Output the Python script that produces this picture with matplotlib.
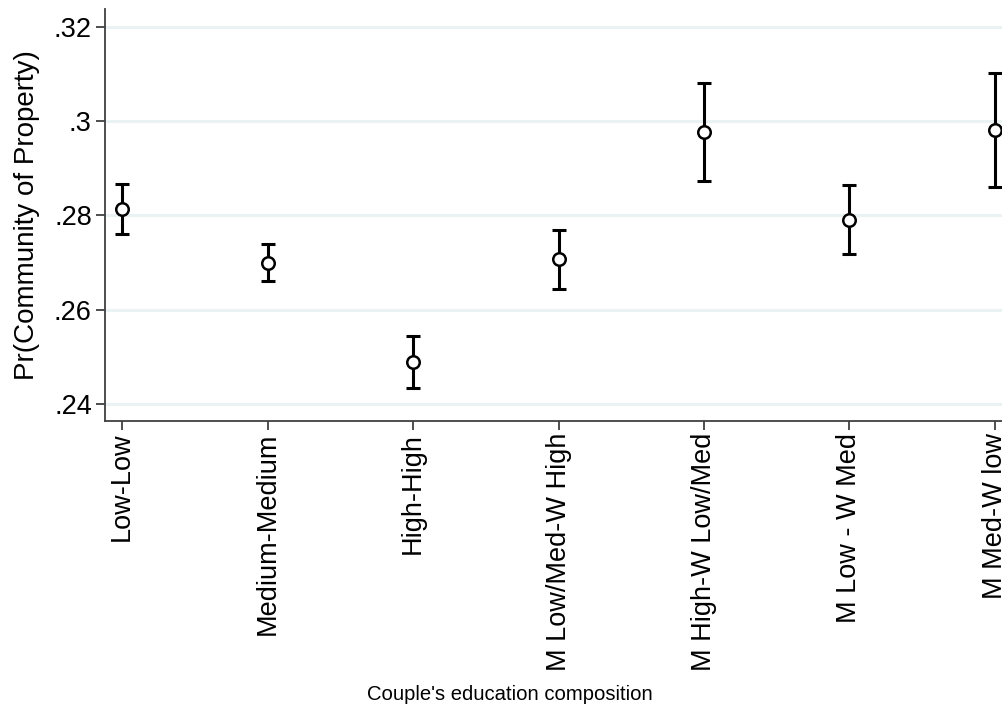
import numpy as np
import matplotlib
matplotlib.use("Agg")
import matplotlib.pyplot as plt

plt.rcParams['font.family'] = ['Liberation Sans', 'DejaVu Sans']

# predicted probabilities with 95% CI by couple education type
groups = ['Low-Low', 'Medium-Medium', 'High-High', 'M Low/Med-W High',
          'M High-W Low/Med', 'M Low - W Med', 'M Med-W low']
prob = [0.2813, 0.2700, 0.2489, 0.2707, 0.2977, 0.2791, 0.2982]
ci_low = [0.2760, 0.2661, 0.2434, 0.2645, 0.2873, 0.2718, 0.2860]
ci_high = [0.2867, 0.2740, 0.2545, 0.2770, 0.3081, 0.2865, 0.3103]
yticks = [0.24, 0.26, 0.28, 0.30, 0.32]
ytick_labels = ['.24', '.26', '.28', '.3', '.32']

W, H = 1002, 718
fig = plt.figure(figsize=(W / 100, H / 100), dpi=100)
# plot region runs past the right edge of the canvas
ax = fig.add_axes([105 / W, (H - 421) / H, (1012 - 105) / W, (421 - 9) / H])

x = np.arange(len(groups))
prob = np.array(prob)
err = np.array([prob - np.array(ci_low), np.array(ci_high) - prob])

for y in yticks:
    ax.axhline(y, color='#eaf2f3', lw=2.2, zorder=0)

ax.errorbar(x, prob, yerr=err, fmt='none', ecolor='black', elinewidth=2.2,
            capsize=5, capthick=2.2, zorder=2)
ax.plot(x, prob, 'o', ms=9, mfc='white', mec='black', mew=1.8, zorder=3)

ax.set_xlim(-0.117, 6.117)
ax.set_ylim(0.2364, 0.3238)
ax.set_yticks(yticks)
ax.set_yticklabels(ytick_labels)
ax.set_xticks(x)
ax.set_xticklabels(groups, rotation=90, va='top')

for s in ['top', 'right']:
    ax.spines[s].set_visible(False)
for s in ['left', 'bottom']:
    ax.spines[s].set_color('#404040')
    ax.spines[s].set_linewidth(1.3)

ax.tick_params(axis='both', direction='out', length=6.5, width=1.3,
               color='#404040', labelsize=19.5)
ax.tick_params(axis='x', pad=2)
ax.tick_params(axis='y', pad=3)

ax.set_ylabel('Pr(Community of Property)', fontsize=20)
ax.yaxis.set_label_coords((27 - 105) / (1012 - 105), 0.5)
ax.set_xlabel("Couple's education composition", fontsize=14.6)
ax.xaxis.set_label_coords((510 - 105) / (1012 - 105), -(695 - 421) / (421 - 9))
ax.xaxis.label.set_va('center')
ax.yaxis.label.set_va('center')

fig.savefig('out.png', dpi=100, facecolor='white')
